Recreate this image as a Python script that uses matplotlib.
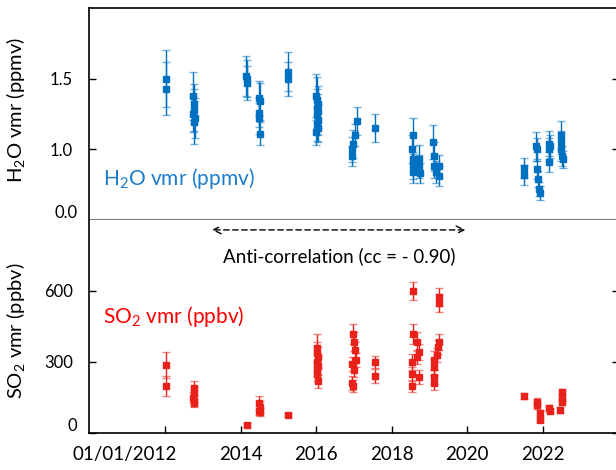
import matplotlib
matplotlib.use("Agg")
import matplotlib.pyplot as plt

plt.rcParams['font.family'] = ['Lato', 'DejaVu Sans']
plt.rcParams['mathtext.fontset'] = 'custom'
plt.rcParams['mathtext.rm'] = 'Lato'

# H2O vmr (ppmv): decimal year, value, error
h2o_date = [2012.02, 2012.03,
            2012.74, 2012.76, 2012.78, 2012.75, 2012.79, 2012.77,
            2014.15, 2014.17, 2014.16,
            2014.48, 2014.52, 2014.50, 2014.49, 2014.51,
            2015.25, 2015.26,
            2016.00, 2016.02, 2016.04, 2016.01, 2016.05, 2016.03, 2016.06, 2016.02, 2016.04, 2016.00,
            2016.94, 2016.95, 2016.98, 2017.04, 2017.07,
            2017.55,
            2018.55, 2018.54, 2018.56, 2018.55, 2018.57, 2018.73, 2018.72, 2018.74,
            2019.10, 2019.12, 2019.13, 2019.17, 2019.26, 2019.26,
            2021.51, 2021.51,
            2021.82, 2021.83, 2021.84, 2021.88, 2021.90, 2021.92,
            2022.15, 2022.16, 2022.17, 2022.20,
            2022.47, 2022.48, 2022.49, 2022.50, 2022.52]
h2o_val = [1.50, 1.43,
           1.38, 1.32, 1.28, 1.25, 1.22, 1.19,
           1.52, 1.47, 1.50,
           1.36, 1.34, 1.26, 1.22, 1.11,
           1.55, 1.50,
           1.38, 1.35, 1.32, 1.29, 1.27, 1.24, 1.21, 1.18, 1.15, 1.12,
           1.00, 0.95, 1.04, 1.10, 1.20,
           1.15,
           1.10, 1.00, 0.93, 0.84, 0.88, 0.93, 0.88, 0.83,
           1.05, 0.95, 0.88, 0.84, 0.88, 0.81,
           0.87, 0.82,
           1.02, 1.00, 0.86, 0.79, 0.72, 0.69,
           1.04, 1.00, 0.91, 1.02,
           1.10, 1.05, 1.00, 0.95, 0.93]
h2o_err = [0.20, 0.19,
           0.17, 0.14, 0.15, 0.13, 0.14, 0.15,
           0.14, 0.12, 0.13,
           0.12, 0.13, 0.10, 0.11, 0.08,
           0.14, 0.12,
           0.15, 0.16, 0.13, 0.14, 0.12, 0.13, 0.11, 0.12, 0.10, 0.09,
           0.09, 0.07, 0.10, 0.08, 0.10,
           0.10,
           0.12, 0.10, 0.09, 0.08, 0.09, 0.10, 0.08, 0.07,
           0.12, 0.10, 0.08, 0.08, 0.08, 0.07,
           0.07, 0.07,
           0.10, 0.08, 0.07, 0.06, 0.05, 0.05,
           0.09, 0.08, 0.07, 0.08,
           0.10, 0.08, 0.08, 0.07, 0.06]

# SO2 vmr (ppbv): decimal year, value, error
so2_date = [2012.02, 2012.03,
            2012.76, 2012.77, 2012.75, 2012.78, 2012.77,
            2014.16,
            2014.50, 2014.52, 2014.49, 2014.52,
            2015.25,
            2016.03, 2016.02, 2016.04, 2016.01, 2016.05, 2016.03, 2016.02, 2016.04,
            2016.97, 2016.99, 2017.02, 2017.06, 2016.94, 2017.00, 2016.95, 2016.97,
            2017.55, 2017.55,
            2018.55, 2018.55, 2018.68, 2018.71, 2018.66, 2018.54, 2018.54, 2018.72, 2018.54,
            2019.26, 2019.26, 2019.26, 2019.23, 2019.19, 2019.13, 2019.13, 2019.13, 2019.13,
            2021.51, 2021.85, 2021.85, 2021.93, 2021.93, 2022.17, 2022.20,
            2022.51, 2022.50, 2022.51, 2022.46]
so2_val = [287, 199,
           190, 170, 150, 135, 128,
           34,
           127, 110, 95, 88,
           76,
           359, 340, 320, 300, 285, 270, 250, 220,
           418, 385, 351, 308, 291, 266, 211, 199,
           300, 241,
           600, 418, 385, 342, 321, 300, 249, 237, 199,
           575, 549, 385, 363, 330, 308, 279, 237, 211,
           156, 131, 118, 84, 55, 106, 95,
           173, 150, 131, 97]
so2_err = [55, 43,
           30, 25, 22, 20, 18,
           8,
           30, 25, 20, 18,
           10,
           60, 45, 45, 40, 40, 35, 30, 30,
           42, 40, 35, 30, 30, 28, 30, 26,
           25, 30,
           40, 42, 40, 35, 30, 35, 30, 30, 25,
           38, 38, 35, 30, 30, 40, 35, 30, 30,
           12, 15, 15, 12, 10, 12, 12,
           15, 15, 12, 12]

x_ticks = [2012, 2014, 2016, 2018, 2020, 2022]
x_labels = ["01/01/2012", "2014", "2016", "2018", "2020", "2022"]
h2o_ticks = [0.5, 1.0, 1.5]
h2o_labels = ["0.0", "1.0", "1.5"]
so2_ticks = [0, 300, 600]
so2_labels = ["0", "300", "600"]

blue = '#0070C0'
red = '#E8221A'

fig = plt.figure(figsize=(6.16, 4.70), dpi=100)
ax1 = fig.add_axes([0.1451, 0.532, 0.859, 0.451])
ax2 = fig.add_axes([0.1451, 0.0787, 0.859, 0.4533])

def draw(ax, x, y, e, color):
    line, caps, bars = ax.errorbar(x, y, yerr=e, fmt='s', color=color, ms=4.8,
                                   ecolor=color, elinewidth=1.0, capsize=3, capthick=1.0)
    for c in caps:
        c.set_alpha(0.55)

draw(ax1, h2o_date, h2o_val, h2o_err, blue)
draw(ax2, so2_date, so2_val, so2_err, red)

for ax in (ax1, ax2):
    ax.set_xlim(2010, 2024)
    ax.set_xticks(x_ticks)
    ax.tick_params(axis='y', direction='in', length=5, width=1, right=True,
                   labelsize=12, pad=12)
    ax.tick_params(axis='x', direction='in', length=5, width=1, labelsize=13.5, pad=9)
    for s in ax.spines.values():
        s.set_linewidth(1.2)

ax1.set_ylim(0.5, 2.0)
ax1.set_yticks(h2o_ticks)
ax1.set_yticklabels(["", h2o_labels[1], h2o_labels[2]])
ax1.text(-0.023, 0.035, h2o_labels[0], transform=ax1.transAxes, ha='right', va='center', fontsize=12)
ax1.tick_params(axis='x', bottom=False, labelbottom=False)
ax1.spines['bottom'].set_color('#7f7f7f')
ax1.spines['bottom'].set_linewidth(1.5)
ax1.set_ylabel(r'$\mathregular{H_2O}$ vmr (ppmv)', fontsize=14.5)
ax1.yaxis.set_label_coords(-0.118, 0.52)
ax1.text(2010.36, 0.79, r'$\mathregular{H_2O}$ vmr (ppmv)', color='#1A7CCB',
         fontsize=15, ha='left', va='center')

ax2.set_ylim(0, 900)
ax2.set_yticks(so2_ticks)
ax2.set_yticklabels(["", so2_labels[1], so2_labels[2]])
ax2.text(-0.023, 0.035, so2_labels[0], transform=ax2.transAxes, ha='right', va='center', fontsize=12)
# the first date label sits left of its tick in the original
ax2.set_xticklabels([""] + x_labels[1:])
ax2.annotate(x_labels[0], xy=(2012.32, 0), xycoords=('data', 'axes fraction'),
             xytext=(0, -9), textcoords='offset points', ha='right', va='top', fontsize=13.5)
ax2.spines['top'].set_visible(False)
ax2.set_ylabel(r'$\mathregular{SO_2}$ vmr (ppbv)', fontsize=14.5)
ax2.yaxis.set_label_coords(-0.118, 0.48)
ax2.text(2010.36, 494, r'$\mathregular{SO_2}$ vmr (ppbv)', color='#FF0000',
         fontsize=15, ha='left', va='center')

ax2.annotate('', xy=(2013.24, 858), xytext=(2019.95, 858),
             arrowprops=dict(arrowstyle='<->', linestyle=(0, (4, 2.5)), lw=1.0,
                             color='black', mutation_scale=14, shrinkA=0, shrinkB=0))
ax2.text(2016.62, 748, 'Anti-correlation (cc = - 0.90)', fontsize=13.5,
         ha='center', va='center')

fig.savefig('out.png', dpi=100)
